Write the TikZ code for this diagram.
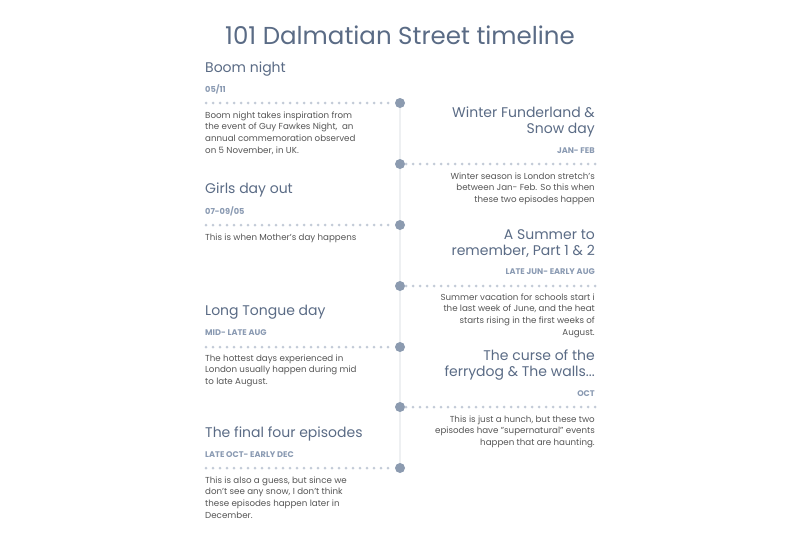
\documentclass[tikz,border=0pt]{standalone}
\usepackage{fontspec}
\setmainfont{Poppins}
\definecolor{ttl}{HTML}{5A6B85}
\definecolor{dt}{HTML}{8A9AB2}
\definecolor{dotc}{HTML}{8C9BB0}
\definecolor{dotl}{HTML}{C3CBD7}
\definecolor{body}{HTML}{555555}
\definecolor{vline}{HTML}{EEF0F2}
\begin{document}
\begin{tikzpicture}[x=1pt,y=-1pt,
  heading/.style={font=\fontsize{14}{16}\selectfont, text=ttl, inner sep=0pt},
  dlabel/.style={font=\fontsize{8.2}{9}\selectfont\bfseries, text=dt, inner sep=0pt},
  bodytxt/.style={font=\fontsize{8.7}{11.6}\selectfont, text=body, inner sep=0pt},
  ev/.style={circle, fill=dotc, minimum size=10pt, inner sep=0pt},
  dotrow/.style={dotl, line width=3pt, line cap=round, dash pattern=on 0pt off 7pt}]
\useasboundingbox (0,0) rectangle (800,533);
\node[font=\fontsize{24.5}{28}\selectfont, text=ttl] (title) at (400,35) {101 Dalmatian Street timeline};

\coordinate (top) at (400,103);
\coordinate (bot) at (400,468);
\draw[vline, line width=1.8pt] (top) -- (bot);

% events
\foreach \i/\y in {1/103,2/164,3/225,4/286,5/347,6/407,7/468}{
  \node[ev] (e\i) at (400,\y) {};
}
\coordinate (l1) at (206,103); \coordinate (l3) at (206,225);
\coordinate (l5) at (206,347); \coordinate (l7) at (206,468);
\coordinate (r2) at (595,164); \coordinate (r4) at (595,286);
\coordinate (r6) at (595,407);
\draw[dotrow] (l1) -- (e1.west);
\draw[dotrow] (l3) -- (e3.west);
\draw[dotrow] (l5) -- (e5.west);
\draw[dotrow] (l7) -- (e7.west);
\draw[dotrow] (r2) -- (e2.east);
\draw[dotrow] (r4) -- (e4.east);
\draw[dotrow] (r6) -- (e6.east);

% left entries
\node[heading, anchor=west] (h1) at (205,69) {Boom night};
\node[dlabel, anchor=west] (d1) at (205,89.5) {05/11};
\node[bodytxt, anchor=north west, align=left] (b1) at (205,111.5) {Boom night takes inspiration from\\the event of Guy Fawkes Night,~ an\\annual commemoration observed\\on 5 November, in UK.};

\node[heading, anchor=west] (h3) at (205,190) {Girls day out};
\node[dlabel, anchor=west] (d3) at (205,211.5) {07-09/05};
\node[bodytxt, anchor=north west, align=left] (b3) at (205,233.5) {This is when Mother's day happens};

\node[heading, anchor=west] (h5) at (205,312) {Long Tongue day};
\node[dlabel, anchor=west] (d5) at (205,332.5) {MID- LATE AUG};
\node[bodytxt, anchor=north west, align=left] (b5) at (205,354.5) {The hottest days experienced in\\London usually happen during mid\\to late August.};

\node[heading, anchor=west] (h7) at (205,434) {The final four episodes};
\node[dlabel, anchor=west] (d7) at (205,454.5) {LATE OCT- EARLY DEC};
\node[bodytxt, anchor=north west, align=left] (b7) at (205,476.5) {This is also a guess, but since we\\don't see any snow, I don't think\\these episodes happen later in\\December.};

% right entries
\node[heading, anchor=east, align=right] (h2) at (595,122) {Winter Funderland \&\\Snow day};
\node[dlabel, anchor=east] (d2) at (595,150.5) {JAN- FEB};
\node[bodytxt, anchor=north east, align=right] (b2) at (595,172.5) {Winter season is London stretch's\\between Jan- Feb. So this when\\these two episodes happen};

\node[heading, anchor=east, align=right] (h4) at (595,244) {A Summer to\\remember, Part 1 \& 2};
\node[dlabel, anchor=east] (d4) at (595,271.5) {LATE JUN- EARLY AUG};
\node[bodytxt, anchor=north east, align=right] (b4) at (595,293.5) {Summer vacation for schools start i\\the last week of June, and the heat\\starts rising in the first weeks of\\August.};

\node[heading, anchor=east, align=right] (h6) at (595,365) {The curse of the\\ferrydog \& The walls...};
\node[dlabel, anchor=east] (d6) at (595,393.5) {OCT};
\node[bodytxt, anchor=north east, align=right] (b6) at (595,415.5) {This is just a hunch, but these two\\episodes have "supernatural" events\\happen that are haunting.};
\end{tikzpicture}
\end{document}
